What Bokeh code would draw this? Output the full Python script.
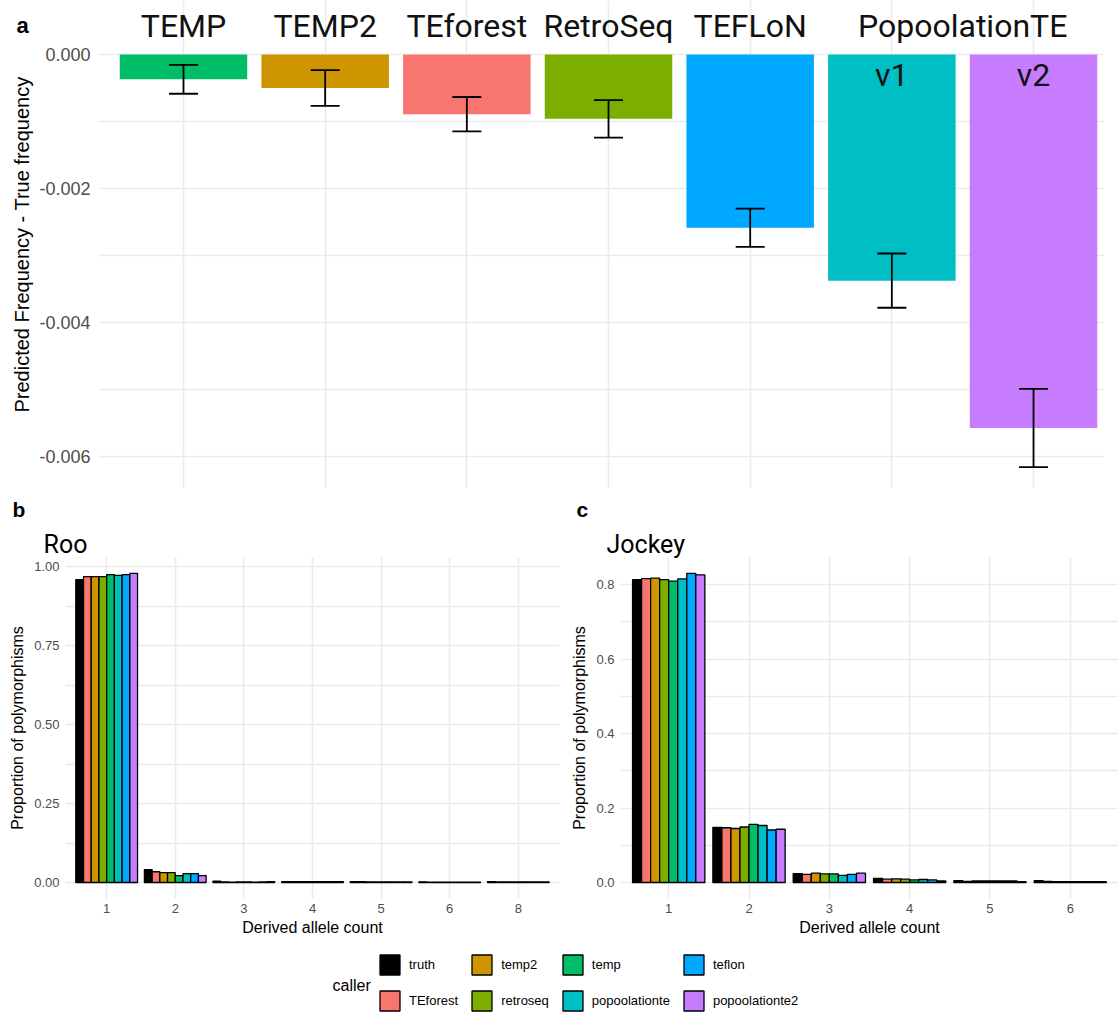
from bokeh.plotting import figure
from bokeh.models import (ColumnDataSource, FactorRange, Range1d, Whisker, TeeHead,
                          FixedTicker, NumeralTickFormatter, Label, Legend, LegendItem)
from bokeh.layouts import column, row
from bokeh.transform import dodge
from bokeh.core.properties import value
from bokeh.embed import file_html
from bokeh.resources import INLINE

# ---------------------------------------------------------------- data
# (a) mean error of the predicted insertion frequency, per caller
methods = ["TEMP", "TEMP2", "TEforest", "RetroSeq", "TEFLoN",
           "PopoolationTE v1", "PopoolationTE v2"]
method_colors = ["#00BE67", "#CD9600", "#F8766D", "#7CAE00", "#00A9FF", "#00BFC4", "#C77CFF"]
freq_bias = [-0.00037, -0.00050, -0.00089, -0.00096, -0.002585, -0.003375, -0.005575]
freq_bias_se = [0.000216, 0.000266, 0.000256, 0.00028, 0.000285, 0.000405, 0.000585]
top_labels = ["TEMP", "TEMP2", "TEforest", "RetroSeq", "TEFLoN"]
group_label = "PopoolationTE"
version_labels = ["v1", "v2"]

# (b, c) derived allele count spectra
callers = ["truth", "TEforest", "temp2", "retroseq", "temp",
           "popoolationte", "teflon", "popoolationte2"]
caller_colors = ["#000000", "#F8766D", "#CD9600", "#7CAE00", "#00BE67",
                 "#00BFC4", "#00A9FF", "#C77CFF"]

roo_counts = ["1", "2", "3", "4", "5", "6", "8"]
roo_truth = [0.958, 0.041, 0.004, 0.003, 0.003, 0.002, 0.003]
roo_teforest = [0.968, 0.034, 0.002, 0.003, 0.003, 0.001, 0.002]
roo_temp2 = [0.968, 0.031, 0.001, 0.003, 0.002, 0.001, 0.002]
roo_retroseq = [0.968, 0.031, 0.002, 0.003, 0.002, 0.001, 0.002]
roo_temp = [0.974, 0.022, 0.002, 0.003, 0.002, 0.001, 0.002]
roo_popoolationte = [0.972, 0.028, 0.001, 0.003, 0.002, 0.001, 0.002]
roo_teflon = [0.974, 0.028, 0.002, 0.003, 0.002, 0.001, 0.002]
roo_popoolationte2 = [0.978, 0.022, 0.003, 0.003, 0.002, 0.001, 0.002]

jockey_counts = ["1", "2", "3", "4", "5", "6"]
jockey_truth = [0.813, 0.148, 0.024, 0.011, 0.005, 0.005]
jockey_teforest = [0.816, 0.147, 0.022, 0.009, 0.003, 0.003]
jockey_temp2 = [0.817, 0.145, 0.025, 0.010, 0.004, 0.002]
jockey_retroseq = [0.813, 0.149, 0.023, 0.009, 0.004, 0.002]
jockey_temp = [0.809, 0.156, 0.023, 0.007, 0.004, 0.002]
jockey_popoolationte = [0.815, 0.153, 0.019, 0.008, 0.004, 0.002]
jockey_teflon = [0.830, 0.141, 0.022, 0.007, 0.004, 0.002]
jockey_popoolationte2 = [0.826, 0.143, 0.025, 0.004, 0.002, 0.002]

roo_series = [roo_truth, roo_teforest, roo_temp2, roo_retroseq, roo_temp,
              roo_popoolationte, roo_teflon, roo_popoolationte2]
jockey_series = [jockey_truth, jockey_teforest, jockey_temp2, jockey_retroseq, jockey_temp,
                 jockey_popoolationte, jockey_teflon, jockey_popoolationte2]

# ---------------------------------------------------------------- style
AXIS_FONT = "Liberation Sans"
TITLE_FONT = "Roboto"
GRID = "#EBEBEB"
TICK_COLOR = "#4D4D4D"


def style_axes(p, tick_size, label_size, tick_standoff, label_standoff):
    for ax in p.axis:
        ax.axis_line_color = None
        ax.major_tick_line_color = None
        ax.minor_tick_line_color = None
        ax.major_tick_out = 0
        ax.major_tick_in = 0
        ax.minor_tick_out = 0
        ax.minor_tick_in = 0
        ax.major_label_text_font = AXIS_FONT
        ax.major_label_text_font_size = tick_size
        ax.major_label_text_color = TICK_COLOR
        ax.major_label_standoff = tick_standoff
        ax.axis_label_text_font = AXIS_FONT
        ax.axis_label_text_font_size = label_size
        ax.axis_label_text_font_style = "normal"
        ax.axis_label_text_color = "#000000"
        ax.axis_label_standoff = label_standoff
    for g in p.grid:
        g.grid_line_color = GRID
        g.grid_line_width = 1.6
        g.minor_grid_line_color = GRID
        g.minor_grid_line_width = 1.6
    p.outline_line_color = None
    p.background_fill_color = "white"
    p.border_fill_color = "white"


def side_label(p, side, text, x, y, size, font, style="normal"):
    # x in pixels from the side panel's left edge, y in data units
    p.add_layout(Label(x=x, y=y, x_units="screen", y_units="data", text=text,
                       text_font=font, text_font_size=size, text_font_style=style,
                       text_color="#000000", text_baseline="middle", text_align="left"),
                 side)


# ---------------------------------------------------------------- panel a
px_per_unit = 67000.0            # vertical pixels per unit of frequency error
band = 141.67                    # horizontal pixels per caller
frame_a_w = 1118 - 98 - 14
x_pos = [i + 0.5 for i in range(len(methods))]

pa = figure(width=1118, height=490, output_backend="svg", toolbar_location=None,
            x_range=Range1d(-0.1, -0.1 + frame_a_w / band),
            y_range=Range1d(-434 / px_per_unit, 54 / px_per_unit),
            x_axis_location=None,
            min_border_left=98, min_border_right=1118 - 98 - frame_a_w,
            min_border_top=0, min_border_bottom=2)
pa.xgrid.ticker = FixedTicker(ticks=x_pos)

src_a = ColumnDataSource(dict(
    x=x_pos, bias=freq_bias, color=method_colors,
    lower=[b - s for b, s in zip(freq_bias, freq_bias_se)],
    upper=[b + s for b, s in zip(freq_bias, freq_bias_se)],
))
pa.vbar(x="x", top=0, bottom="bias", width=0.9, fill_color="color",
        line_color=None, source=src_a)
whisk = Whisker(base="x", lower="lower", upper="upper", source=src_a,
                line_color="black", line_width=1.8, level="annotation",
                upper_head=TeeHead(size=29, line_color="black", line_width=1.8),
                lower_head=TeeHead(size=29, line_color="black", line_width=1.8))
pa.add_layout(whisk)

pa.yaxis.ticker = FixedTicker(ticks=[-0.006, -0.004, -0.002, 0.0],
                              minor_ticks=[-0.005, -0.003, -0.001])
pa.yaxis.formatter = NumeralTickFormatter(format="0.000")
pa.yaxis.axis_label = "Predicted Frequency - True frequency"
style_axes(pa, "18px", "20px", 8, 3)

# caller names above the bars, version tags inside the PopoolationTE bars
name_kw = dict(text_font=value(TITLE_FONT), text_font_size="32px", text_align="center",
               text_baseline="middle", text_color="#111111")
pa.text(x=x_pos[:len(top_labels)], y=[29 / px_per_unit] * len(top_labels),
        text=top_labels, **name_kw)
v_idx = [methods.index("PopoolationTE v1"), methods.index("PopoolationTE v2")]
pa.text(x=[(x_pos[v_idx[0]] + x_pos[v_idx[1]]) / 2], y=[29 / px_per_unit],
        text=[group_label], **name_kw)
pa.text(x=[x_pos[i] for i in v_idx], y=[-20 / px_per_unit] * 2, text=version_labels,
        **name_kw)
side_label(pa, "right", "a", 16 - 98 - frame_a_w, (54 - 24.5) / px_per_unit,
           "22px", AXIS_FONT, "bold")


# ---------------------------------------------------------------- panels b, c
def spectrum(counts, series, width, left, per_unit, ticks, minor, fmt,
             title, letter, title_x, letter_x):
    p = figure(width=width, height=451, output_backend="svg", toolbar_location=None,
               x_range=FactorRange(*counts, range_padding=0.1, range_padding_units="absolute"),
               y_range=Range1d(-16 / per_unit, 325 / per_unit),
               min_border_left=left, min_border_right=1 if left > 62 else 0,
               min_border_top=67, min_border_bottom=43)
    data = dict(count=counts)
    for name, vals in zip(callers, series):
        data[name] = vals
    src = ColumnDataSource(data)
    n = len(callers)
    bw = 0.9 / n
    for i, (name, col) in enumerate(zip(callers, caller_colors)):
        p.vbar(x=dodge("count", (i - (n - 1) / 2) * bw, range=p.x_range), top=name,
               width=bw, fill_color=col, line_color="black", line_width=1.3, source=src)
    p.yaxis.ticker = FixedTicker(ticks=ticks, minor_ticks=minor)
    p.yaxis.formatter = NumeralTickFormatter(format=fmt)
    p.yaxis.axis_label = "Proportion of polymorphisms"
    p.xaxis.axis_label = "Derived allele count"
    style_axes(p, "13px", "16px", 6, 5)
    p.xaxis.major_label_standoff = 5
    p.xaxis.axis_label_standoff = 3
    # facet title and panel letter (page rows 544 and 508, zero line at 882)
    side_label(p, "above", title, title_x, (882 - 544) / per_unit, "25px", TITLE_FONT)
    side_label(p, "above", letter, letter_x, (882 - 508.5) / per_unit, "21px",
               AXIS_FONT, "bold")
    return p


pb = spectrum(roo_counts, roo_series, 560, 65, 316.0,
              [0.0, 0.25, 0.5, 0.75, 1.0], [0.125, 0.375, 0.625, 0.875], "0.00",
              "Roo", "b", -22, -53)
pc = spectrum(jockey_counts, jockey_series, 558, 60, 372.5,
              [0.0, 0.2, 0.4, 0.6, 0.8], [0.1, 0.3, 0.5, 0.7], "0.0",
              "Jockey", "c", -14, -44)

# ---------------------------------------------------------------- shared legend
leg_left = 98
pl = figure(width=1118, height=72, output_backend="svg", toolbar_location=None,
            x_range=FactorRange(*roo_counts), y_range=Range1d(0, 1),
            x_axis_location=None, y_axis_location=None,
            min_border_left=leg_left, min_border_right=0, min_border_top=0,
            min_border_bottom=0)
pl.grid.visible = False
pl.outline_line_color = None
leg_data = dict(count=roo_counts)
for name, vals in zip(callers, roo_series):
    leg_data[name] = vals
leg_src = ColumnDataSource(leg_data)
items = []
for name, col in zip(callers, caller_colors):
    # hidden renderers: only their legend keys are drawn
    r = pl.vbar(x="count", top=name, width=0.5, fill_color=col, line_color="black",
                line_width=1.3, source=leg_src, visible=False)
    items.append(LegendItem(label=name, renderers=[r]))
legend = Legend(items=items, orientation="vertical", nrows=2, location=(377 - leg_left, 0),
                padding=0, margin=0, spacing=11, glyph_width=25, glyph_height=25,
                label_standoff=7, label_text_font=AXIS_FONT, label_text_font_size="13px",
                label_text_color="#000000", border_line_color=None,
                background_fill_alpha=0, inactive_fill_alpha=0,
                click_policy="none")
pl.add_layout(legend, "center")
pl.add_layout(Label(x=332 - leg_left, y=28, x_units="screen", y_units="screen",
                    text="caller", text_font=AXIS_FONT, text_font_size="16px",
                    text_baseline="middle", text_align="left", text_color="#000000"))

layout = column(pa, row(pb, pc), pl)
open("out.html", "w").write(file_html(layout, INLINE))
